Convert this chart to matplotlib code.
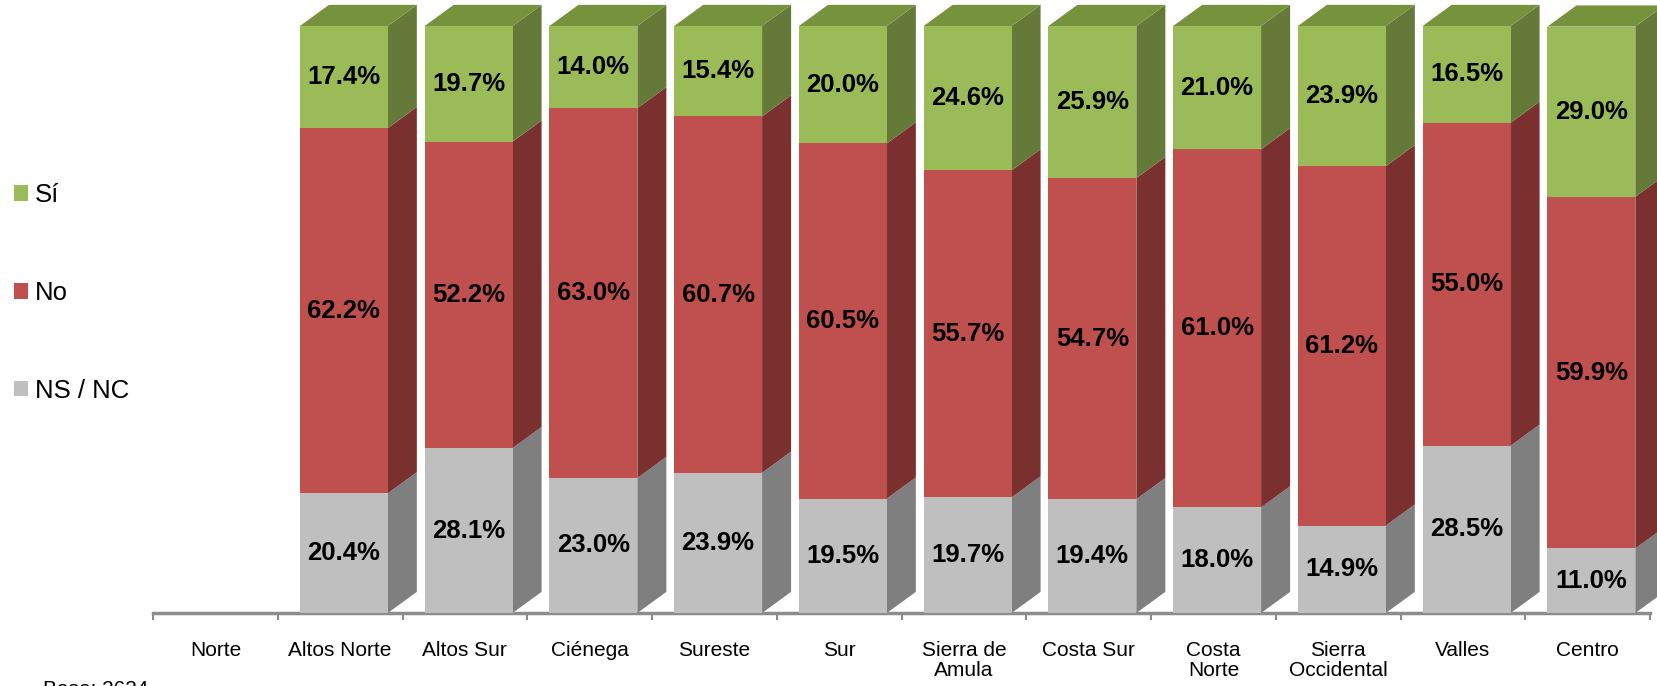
import numpy as np
import matplotlib.pyplot as plt
from matplotlib.patches import Polygon

plt.rcParams['font.family'] = ['Liberation Sans', 'DejaVu Sans']

# data
regiones = ["Norte", "Altos Norte", "Altos Sur", "Ciénega", "Sureste", "Sur",
            "Sierra de\nAmula", "Costa Sur", "Costa\nNorte", "Sierra\nOccidental",
            "Valles", "Centro"]
ns_nc = [np.nan, 20.4, 28.1, 23.0, 23.9, 19.5, 19.7, 19.4, 18.0, 14.9, 28.5, 11.0]
no = [np.nan, 62.2, 52.2, 63.0, 60.7, 60.5, 55.7, 54.7, 61.0, 61.2, 55.0, 59.9]
si = [np.nan, 17.4, 19.7, 14.0, 15.4, 20.0, 24.6, 25.9, 21.0, 23.9, 16.5, 29.0]

# (label, values, front colour, side colour)
series = [
    ("NS / NC", ns_nc, "#BFBFBF", "#7F7F7F"),
    ("No", no, "#C0504D", "#7A302E"),
    ("Sí", si, "#9BBB59", "#657A38"),
]
top_color = "#77923D"

fig = plt.figure(figsize=(16.57, 6.86), dpi=100)
ax = fig.add_axes([153 / 1657, 73 / 686, 1497 / 1657, 587 / 686])

x = np.arange(len(regiones))
w = 0.705
shift = 0.03
dx, dy = 0.2325, 3.6  # fake 3d depth

bottom = np.zeros(len(x))
handles = []
for name, vals, c_front, c_side in series:
    raw = np.array(vals, dtype=float)
    v = np.nan_to_num(raw)
    bars = ax.bar(x + shift, v, w, bottom=bottom, color=c_front,
                  linewidth=0, zorder=3, label=name)
    handles.append(bars)
    for xi, b, h, r in zip(x, bottom, v, raw):
        if np.isnan(r):
            continue
        x1 = xi + shift + w / 2
        ax.add_patch(Polygon([(x1, b), (x1 + dx, b + dy), (x1 + dx, b + h + dy), (x1, b + h)],
                             closed=True, fc=c_side, ec="none", clip_on=False, zorder=2))
        ax.text(xi + shift, b + h / 2, f"{r:.1f}%", ha="center", va="center",
                fontsize=18.5, fontweight="bold", zorder=5)
    bottom = bottom + v

# top faces
for xi, tot, r in zip(x, bottom, si):
    if np.isnan(r):
        continue
    x0 = xi + shift - w / 2
    x1 = x0 + w
    ax.add_patch(Polygon([(x0, tot), (x1, tot), (x1 + dx, tot + dy), (x0 + dx, tot + dy)],
                         closed=True, fc=top_color, ec="none", clip_on=False, zorder=2))

ax.set_xlim(-0.5, len(x) - 0.5)
ax.set_ylim(0, 100)
ax.set_xticks(x, regiones, fontsize=15, linespacing=1.1)
ax.set_xticks(np.arange(-0.5, len(x), 1), minor=True)
ax.tick_params(axis="x", which="major", length=0, pad=20)
ax.tick_params(axis="x", which="minor", length=5, width=1.5, color="#8C8C8C")
ax.set_yticks([])
for s in ["top", "right", "left"]:
    ax.spines[s].set_visible(False)
ax.spines["bottom"].set_color("#8C8C8C")
ax.spines["bottom"].set_linewidth(2.5)

leg = ax.legend(handles[::-1], [s[0] for s in series][::-1], loc="center left",
                bbox_to_anchor=(14 / 1657, 393 / 686), bbox_transform=fig.transFigure,
                frameon=False, fontsize=18.5, handlelength=0.55, handleheight=0.55,
                handletextpad=0.25, labelspacing=2.87, borderpad=0, borderaxespad=0)

# the reference shows this note cut off at the bottom edge
fig.text(43 / 1657, 6 / 686, "Base: 2624", va="top", ha="left", fontsize=15)

fig.savefig("out.png", dpi=100)
